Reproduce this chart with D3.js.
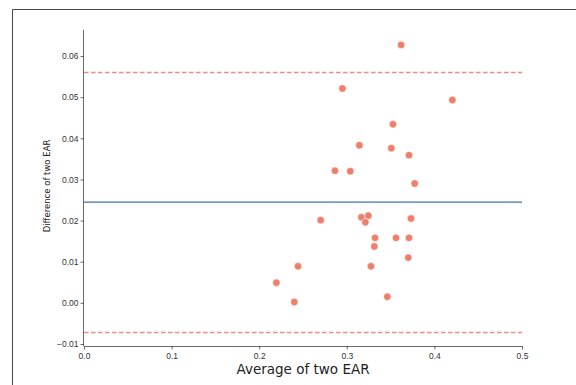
<!DOCTYPE html>
<html>
<head>
<meta charset="utf-8">
<script src="https://cdn.jsdelivr.net/npm/d3@7"></script>
<style>
  body { margin: 0; background: #fff; }
  svg { display: block; font-family: "DejaVu Sans", sans-serif; }
  .axis text { fill: #333; font-size: 8.5px; }
  .axis path, .axis line { stroke: #444; stroke-width: 0.8; }
</style>
</head>
<body>
<div id="chart"></div>
<script>
/* average of two EAR (x) and difference of two EAR (y) */
var avgEAR = [0.362, 0.295, 0.4205, 0.3527, 0.3143, 0.3508, 0.371, 0.2865, 0.304,
  0.3775, 0.2702, 0.3166, 0.3246, 0.3212, 0.3733, 0.3322, 0.3562, 0.371,
  0.3314, 0.3702, 0.2443, 0.3276, 0.2196, 0.2401, 0.3463];
var diffEAR = [0.0627, 0.0521, 0.0493, 0.0434, 0.0383, 0.0376, 0.0359, 0.0321, 0.0320,
  0.0290, 0.0201, 0.0208, 0.0212, 0.0196, 0.0205, 0.0158, 0.0158, 0.0158,
  0.0137, 0.0110, 0.0089, 0.0089, 0.0049, 0.0002, 0.0015];

var meanDiff = 0.0245;
var upperLoA = 0.0560;
var lowerLoA = -0.0072;

var xTicks = [0.0, 0.1, 0.2, 0.3, 0.4, 0.5];
var yTicks = [-0.01, 0.00, 0.01, 0.02, 0.03, 0.04, 0.05, 0.06];

var w = 576, h = 385;

var svg = d3.select("#chart").append("svg").attr("width", w).attr("height", h);

// outer frame (left and top edges visible)
svg.append("path")
  .attr("d", "M12.5," + h + "V9.5H" + w)
  .attr("fill", "none")
  .attr("stroke", "#444")
  .attr("stroke-width", 1);

var xScale = d3.scaleLinear().domain([0, 0.5]).range([84, 522]);
var yScale = d3.scaleLinear().domain([-0.01, 0.06]).range([344, 56]);

/* limit lines */
svg.append("line")
  .attr("x1", xScale(0)).attr("x2", xScale(0.5))
  .attr("y1", yScale(meanDiff)).attr("y2", yScale(meanDiff))
  .attr("stroke", "#3b75af").attr("stroke-width", 1.3);

[upperLoA, lowerLoA].forEach(function (v) {
  svg.append("line")
    .attr("x1", xScale(0)).attr("x2", xScale(0.5))
    .attr("y1", yScale(v)).attr("y2", yScale(v))
    .attr("stroke", "#ec8f7e").attr("stroke-width", 1.5)
    .attr("stroke-dasharray", "4.5,2.5");
});

/* points */
svg.append("g").selectAll("circle").data(avgEAR).enter()
  .append("circle")
  .attr("cx", function (d) { return xScale(d); })
  .attr("cy", function (d, i) { return yScale(diffEAR[i]); })
  .attr("r", 3.7)
  .attr("fill", "#ee7f6c")
  .attr("stroke", "#fff")
  .attr("stroke-width", 0.5);

/* axes */
var xAxis = d3.axisBottom(xScale).tickValues(xTicks).tickFormat(d3.format(".1f")).tickSizeOuter(0).tickSize(3.5);
var yAxis = d3.axisLeft(yScale).tickValues(yTicks).tickFormat(function (d) {
  return d < 0 ? "\u2212" + d3.format(".2f")(-d) : d3.format(".2f")(d);
}).tickSizeOuter(0).tickSize(3.5);

var gx = svg.append("g").attr("class", "axis")
  .attr("transform", "translate(0,346)")
  .call(xAxis);
gx.select(".domain").attr("d", "M" + xScale(0) + ",0.5H" + xScale(0.5));

var gy = svg.append("g").attr("class", "axis")
  .attr("transform", "translate(84,0)")
  .call(yAxis);
gy.select(".domain").attr("d", "M-0.5,30V346");
gy.selectAll("text").attr("x", -5.5);

svg.append("text")
  .attr("x", 303).attr("y", 374)
  .attr("text-anchor", "middle")
  .attr("font-size", 13.5)
  .attr("fill", "#222")
  .text("Average of two EAR");

svg.append("text")
  .attr("transform", "translate(50,186) rotate(-90)")
  .attr("text-anchor", "middle")
  .attr("font-size", 8.5)
  .attr("fill", "#222")
  .text("Difference of two EAR");
</script>
</body>
</html>
